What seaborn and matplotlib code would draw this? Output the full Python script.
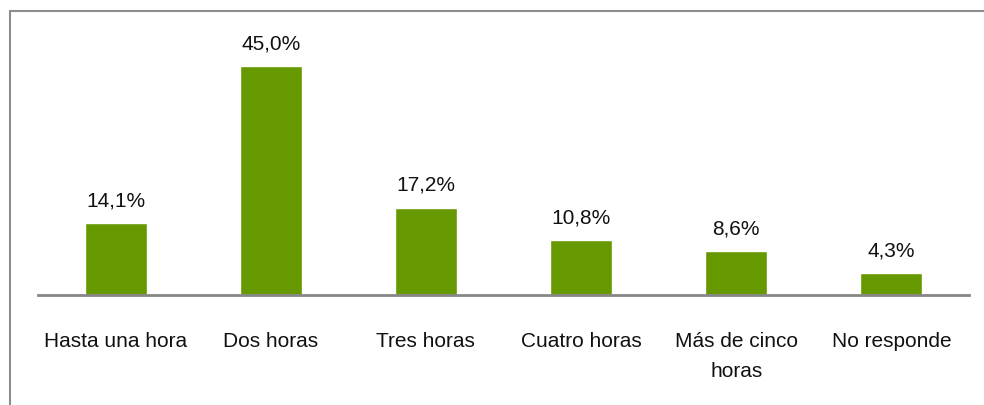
import matplotlib
matplotlib.use("Agg")
import matplotlib.pyplot as plt
import matplotlib.patches as mpatches
import seaborn as sb
import pandas as pd

categorias = ["Hasta una hora", "Dos horas", "Tres horas", "Cuatro horas", "Más de cinco\nhoras", "No responde"]
porcentajes = [14.1, 45.0, 17.2, 10.8, 8.6, 4.3]
etiquetas = ["14,1%", "45,0%", "17,2%", "10,8%", "8,6%", "4,3%"]

df = pd.DataFrame({"cat": categorias, "pct": porcentajes})

sb.set_style("white")
plt.rcParams["font.family"] = ["Liberation Sans Narrow", "Liberation Sans", "DejaVu Sans"]

fig = plt.figure(figsize=(9.84, 4.06), dpi=100)
ax = fig.add_axes([38 / 984, 1 - 296 / 406, (969 - 38) / 984, (296 - 30) / 406])

sb.barplot(data=df, x="cat", y="pct", color="#669900", saturation=1, width=0.4, ax=ax)

ax.set_xlim(-0.5, len(categorias) - 0.5)
ax.set_ylim(0, 52.3)
for i, (v, t) in enumerate(zip(porcentajes, etiquetas)):
    ax.text(i, v + 2.7, t, ha="center", va="bottom", fontsize=15, color="#111111")

for s in ["top", "right", "left"]:
    ax.spines[s].set_visible(False)
ax.spines["bottom"].set_color("#878787")
ax.spines["bottom"].set_linewidth(2)
ax.set_yticks([])
ax.set_xlabel("")
ax.set_ylabel("")
ax.tick_params(axis="x", length=0, pad=26, labelsize=15, labelcolor="#111111")
for lab in ax.get_xticklabels():
    lab.set_verticalalignment("top")
    lab.set_linespacing(1.75)

# marco exterior
fig.patches.append(mpatches.Rectangle((10 / 984, -0.05), 1.0, 1 - 12 / 406 + 0.05,
                                      transform=fig.transFigure, fill=False,
                                      edgecolor="#8c8c8c", linewidth=1.5))

fig.savefig("out.png", dpi=100)
